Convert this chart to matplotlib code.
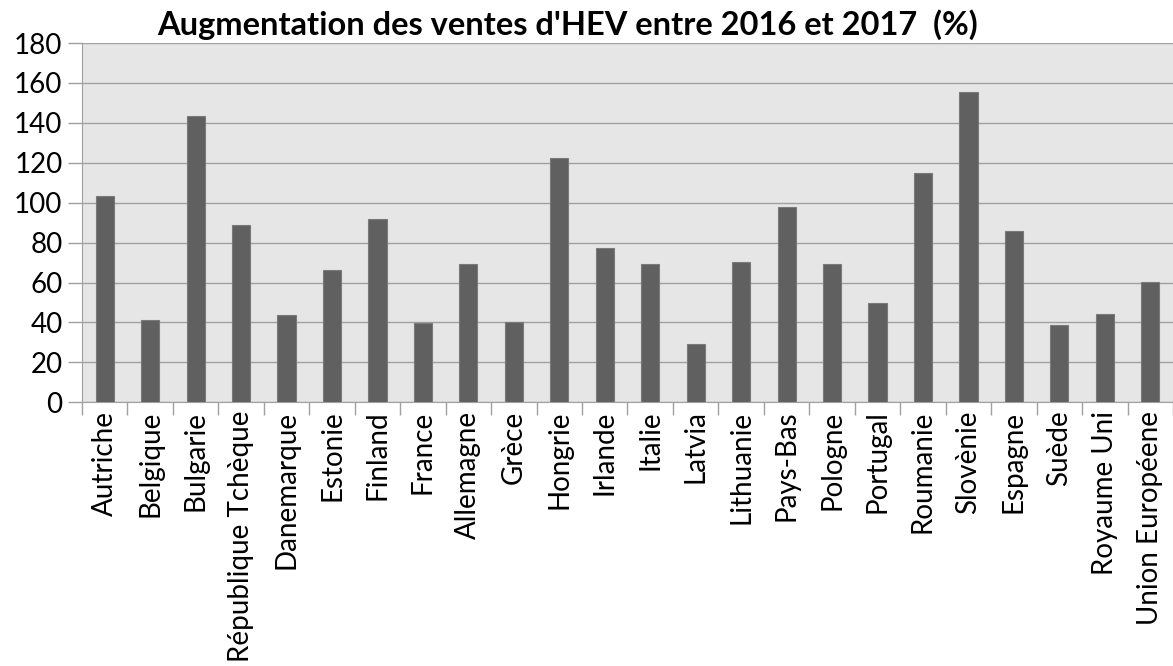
import matplotlib
matplotlib.use('Agg')
import matplotlib.pyplot as plt
import numpy as np

pays = ['Autriche', 'Belgique', 'Bulgarie', 'République Tchèque', 'Danemarque',
        'Estonie', 'Finland', 'France', 'Allemagne', 'Grèce', 'Hongrie', 'Irlande',
        'Italie', 'Latvia', 'Lithuanie', 'Pays-Bas', 'Pologne', 'Portugal',
        'Roumanie', 'Slovènie', 'Espagne', 'Suède', 'Royaume Uni', 'Union Européene']
hausse = [103.1, 41.3, 143.2, 88.7, 43.6, 66.5, 91.6, 39.9, 69.2, 40.1, 122.5, 77.2,
          69.5, 29.1, 70.2, 97.7, 69.2, 49.5, 114.8, 155.4, 85.9, 38.6, 44.4, 60.5]
graduations = [0, 20, 40, 60, 80, 100, 120, 140, 160, 180]

plt.rcParams['font.family'] = ['Lato', 'DejaVu Sans']

fig = plt.figure(figsize=(11.73, 6.66), dpi=100)
ax = fig.add_axes([0.0699, 0.396, 0.9301, 0.5394])
ax.set_facecolor('#e6e6e6')

x = np.arange(len(pays))
ax.bar(x, hausse, width=0.4, color='#606060', edgecolor='#7a7a7a', linewidth=0.8, zorder=3)

ax.set_xlim(-0.5, len(pays) - 0.5)
ax.set_ylim(0, 180)
ax.set_yticks(graduations)
ax.set_yticklabels([str(g) for g in graduations], fontsize=20)
ax.yaxis.grid(True, color='#a0a0a0', linewidth=1, zorder=0)

ax.set_xticks(x)
ax.set_xticklabels(pays, rotation=90, fontsize=20)
ax.set_xticks(np.arange(len(pays) + 1) - 0.5, minor=True)
ax.tick_params(axis='x', which='major', length=0, pad=6)
ax.tick_params(axis='x', which='minor', length=9, color='#a0a0a0', width=1)
ax.tick_params(axis='y', length=10, color='#a0a0a0', width=1, pad=4)

for s in ['top', 'right']:
    ax.spines[s].set_visible(False)
ax.spines['left'].set_color('#a0a0a0')
ax.spines['bottom'].set_color('#a0a0a0')

ax.set_title("Augmentation des ventes d'HEV entre 2016 et 2017  (%)",
             fontsize=23.5, fontweight='bold', x=0.445, pad=6)

fig.savefig('out.png', dpi=100)
